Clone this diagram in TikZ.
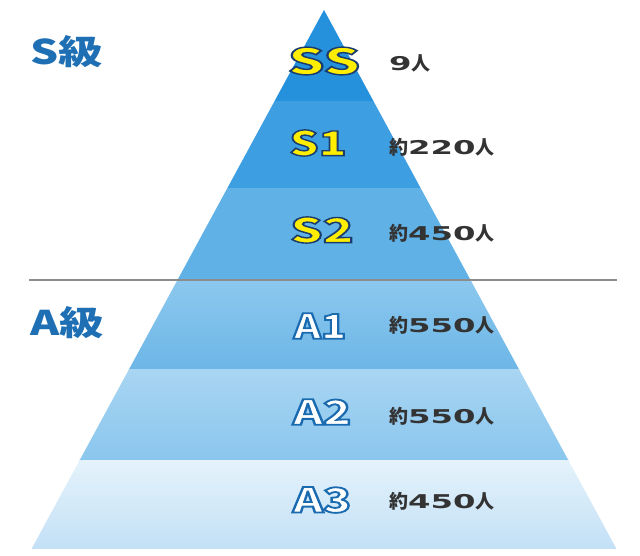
\documentclass[tikz,border=0pt]{standalone}
\usepackage{fontspec}
\newfontfamily\lblfont{DejaVu Sans}
\newfontfamily\heavy{Noto Sans CJK JP Black}
\newfontfamily\cjk{Noto Sans CJK JP}
\definecolor{ssband}{HTML}{2590DC}
\definecolor{sone}{HTML}{3D9FE2}
\definecolor{stwo}{HTML}{60B2E6}
\definecolor{aonetop}{HTML}{8CC8EE}
\definecolor{aonebot}{HTML}{6CB6E7}
\definecolor{atwotop}{HTML}{A8D5F2}
\definecolor{atwobot}{HTML}{8AC6EE}
\definecolor{athreetop}{HTML}{E4F2FB}
\definecolor{athreebot}{HTML}{C2E0F6}
\definecolor{gradeblue}{HTML}{1E6FB4}
\definecolor{sylw}{HTML}{FFEE00}
\definecolor{cnt}{HTML}{333333}
\definecolor{sepline}{HTML}{8C8C8C}
% outlined text: fill + stroke in one text run (PDF text render mode 2)
\newcommand{\slabel}[2]{\scalebox{#1}[1]{\textcolor{sylw}{\special{pdf:literal 2 Tr 1.4 w 0.106 0.239 0.431 RG}#2\special{pdf:literal 0 Tr}}}}
\newcommand{\alabel}[2]{\scalebox{#1}[1]{\textcolor{white}{\special{pdf:literal 2 Tr 1.8 w 0.102 0.416 0.690 RG}#2\special{pdf:literal 0 Tr}}}}
\newcommand{\cnttext}[2]{{\cjk\bfseries #1}\scalebox{1.7}[1]{\lblfont\bfseries #2}{\cjk\bfseries 人}}
\tikzset{
  lbl/.style={font=\heavy\fontsize{34}{34}\selectfont, inner sep=0pt},
  biglbl/.style={font=\heavy\fontsize{36}{36}\selectfont, inner sep=0pt},
  count/.style={anchor=west, text=cnt, font=\fontsize{19}{19}\selectfont, inner sep=0pt},
  grade/.style={anchor=west, text=gradeblue, font=\heavy\fontsize{34}{34}\selectfont, inner sep=0pt}
}
\begin{document}
\begin{tikzpicture}[x=1pt,y=1pt]
\useasboundingbox (0,0) rectangle (640,556);
\fill[white] (0,0) rectangle (640,556);
\begin{scope}
\clip (324,546) -- (31.5,7) -- (616.5,7) -- cycle;
\fill[ssband] (0,455) rectangle (640,547);
\fill[sone] (0,368) rectangle (640,455);
\fill[stwo] (0,276) rectangle (640,368);
\shade[top color=aonetop, bottom color=aonebot] (0,186) rectangle (640,276);
\shade[top color=atwotop, bottom color=atwobot] (0,95) rectangle (640,186);
\shade[top color=athreetop, bottom color=athreebot] (0,6) rectangle (640,95);
\end{scope}
\coordinate (lineL) at (29,276);
\coordinate (lineR) at (617,276);
\draw[sepline, line width=2.5pt] (lineL) -- (lineR);
% grade headings
\node[grade] (sgrade) at (30,504) {\scalebox{1.3}[1]{S級}};
\node[grade] (agrade) at (30,233) {\scalebox{1.3}[1]{A級}};
% level labels
\node[biglbl] (ss) at (324,495) {\slabel{1.6}{SS}};
\node[lbl] (s1) at (318,413) {\slabel{1.35}{S1}};
\node[lbl] (s2) at (322,326) {\slabel{1.5}{S2}};
\node[lbl] (a1) at (320,230) {\alabel{1.22}{A1}};
\node[lbl] (a2) at (322,144) {\alabel{1.35}{A2}};
\node[lbl] (a3) at (322,56) {\alabel{1.35}{A3}};
% counts
\node[count] (css) at (389,493) {\cnttext{}{9}};
\node[count] (cs1) at (389,409) {\cnttext{約}{220}};
\node[count] (cs2) at (389,323) {\cnttext{約}{450}};
\node[count] (ca1) at (389,231) {\cnttext{約}{550}};
\node[count] (ca2) at (389,140) {\cnttext{約}{550}};
\node[count] (ca3) at (389,55) {\cnttext{約}{450}};
\end{tikzpicture}
\end{document}
